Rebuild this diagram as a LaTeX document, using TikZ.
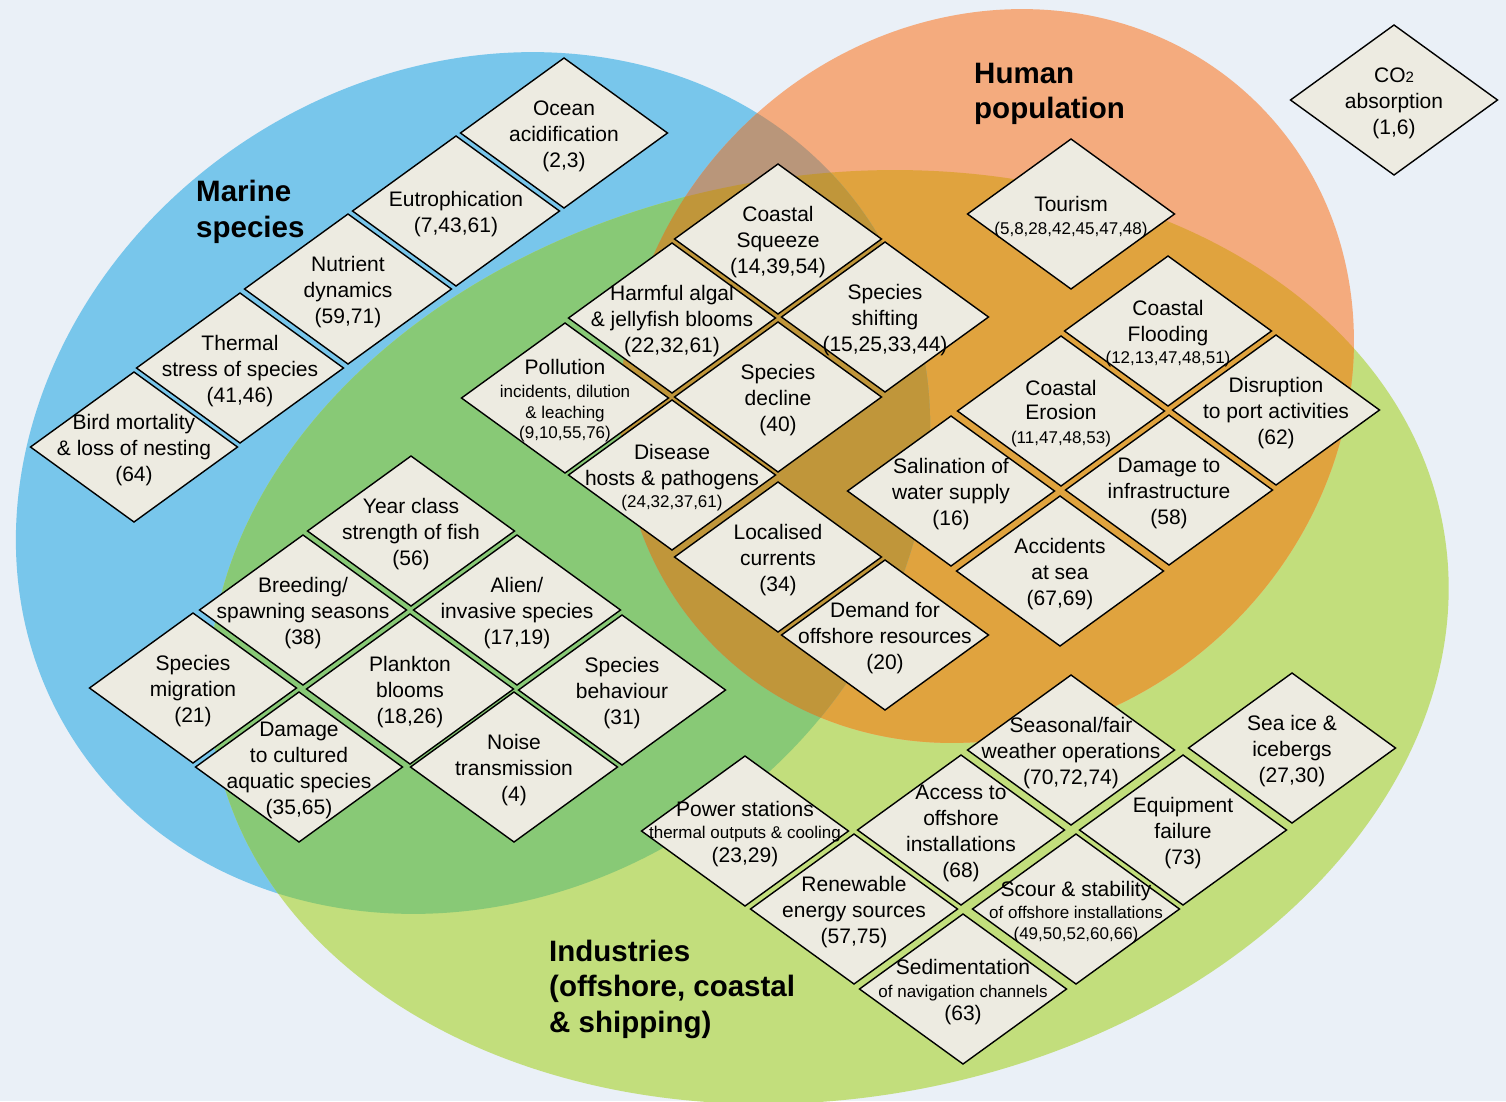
\documentclass[tikz,border=0pt]{standalone}
\usepackage{fontspec}
\setmainfont{Liberation Sans}
\usetikzlibrary{shapes.geometric}
\definecolor{cbg}{RGB}{234,240,247}
\definecolor{cblue}{RGB}{120,198,235}
\definecolor{corange}{RGB}{244,171,126}
\definecolor{cgreen}{RGB}{194,222,124}
\definecolor{cbluegreen}{RGB}{136,201,118}
\definecolor{corangegreen}{RGB}{224,163,62}
\definecolor{cblueorange}{RGB}{185,150,122}
\definecolor{call}{RGB}{192,150,58}
\definecolor{cfill}{RGB}{237,235,225}
\newcommand\sm{\fontsize{17}{20}\selectfont}
\newcommand\dmd[3]{\node[dia] (#1) at (#2) {}; \node[dtext] (#1-t) at (#1.center) {#3};}
\begin{document}
\begin{tikzpicture}[x=1pt,y=-1pt,
  dia/.style={diamond, draw=black, line width=1.4pt, fill=cfill, minimum width=207pt, minimum height=150pt, inner sep=0pt, outer sep=0pt},
  dtext/.style={align=center, inner sep=0pt, yshift=-3pt, font=\fontsize{21}{26}\selectfont, text=black},
  title/.style={align=left, anchor=west, inner sep=0pt, font=\bfseries\fontsize{29.5}{35.5}\selectfont, text=black}]
\fill[cbg] (0,0) rectangle (1506,1101);
\useasboundingbox (0,0) rectangle (1506,1101);
\clip (0,0) rectangle (1506,1101);
% base ellipses
\fill[cblue, rotate around={32.9:(473,483)}] (473,483) ellipse [x radius=475pt, y radius=411pt];
\fill[cgreen, rotate around={10.1:(829,637)}] (829,637) ellipse [x radius=624pt, y radius=461pt];
\fill[corange, rotate around={45:(987,376)}] (987,376) ellipse [x radius=384pt, y radius=349pt];
% orange and green
\begin{scope}
  \clip[rotate around={45:(987,376)}] (987,376) ellipse [x radius=384pt, y radius=349pt];
  \fill[corangegreen, rotate around={10.1:(829,637)}] (829,637) ellipse [x radius=624pt, y radius=461pt];
\end{scope}
% blue overlaps
\begin{scope}
  \clip[rotate around={32.9:(473,483)}] (473,483) ellipse [x radius=475pt, y radius=411pt];
  \fill[cbluegreen, rotate around={10.1:(829,637)}] (829,637) ellipse [x radius=624pt, y radius=461pt];
  \fill[cblueorange, rotate around={45:(987,376)}] (987,376) ellipse [x radius=384pt, y radius=349pt];
  \begin{scope}
    \clip[rotate around={45:(987,376)}] (987,376) ellipse [x radius=384pt, y radius=349pt];
    \fill[call, rotate around={10.1:(829,637)}] (829,637) ellipse [x radius=624pt, y radius=461pt];
  \end{scope}
\end{scope}
% titles
\node[title] (tmarine) at (196,212) {Marine\\species};
\node[title] (thuman) at (974,94) {Human\\population};
\node[title] (tind) at (549,989) {Industries\\(offshore, coastal\\\& shipping)};
% blue group
\dmd{ocean}{564,133}{Ocean\\acidification\\(2,3)}
\dmd{eutro}{456,211}{Eutrophication\\(7,43,61)}
\dmd{nutri}{348,289}{Nutrient\\dynamics\\(59,71)}
\dmd{thermal}{240,368}{Thermal\\stress of species\\(41,46)}
\dmd{bird}{134,447}{Bird mortality\\\& loss of nesting\\(64)}
% centre group
\dmd{squeeze}{778,239}{Coastal\\Squeeze\\(14,39,54)}
\dmd{shift}{885,317}{Species\\shifting\\(15,25,33,44)}
\dmd{harm}{672,318}{Harmful algal\\\& jellyfish blooms\\(22,32,61)}
\dmd{decline}{778,397}{Species\\decline\\(40)}
\dmd{pollu}{565,398}{Pollution\\[-3pt]{\sm incidents, dilution}\\[-5pt]{\sm \& leaching}\\[-6pt]{\sm (9,10,55,76)}}
\dmd{disease}{672,475}{Disease\\hosts \& pathogens\\[-4pt]{\sm (24,32,37,61)}}
\dmd{curr}{778,557}{Localised\\currents\\(34)}
\dmd{demand}{885,635}{Demand for\\offshore resources\\(20)}
% right group
\dmd{tour}{1071,214}{Tourism\\[-3pt]{\sm (5,8,28,42,45,47,48)}}
\dmd{flood}{1168,331}{Coastal\\Flooding\\[-4pt]{\sm (12,13,47,48,51)}}
\dmd{erosion}{1061,411}{Coastal\\[-2pt]Erosion\\[-2pt]{\sm (11,47,48,53)}}
\dmd{port}{1276,410}{Disruption\\to port activities\\(62)}
\dmd{salin}{951,491}{Salination of\\water supply\\(16)}
\dmd{infra}{1169,490}{Damage to\\infrastructure\\(58)}
\dmd{accid}{1060,571}{Accidents\\at sea\\(67,69)}
% left group
\dmd{year}{411,531}{Year class\\strength of fish\\(56)}
\dmd{breed}{303,610}{Breeding/\\spawning seasons\\(38)}
\dmd{alien}{517,610}{Alien/\\invasive species\\(17,19)}
\dmd{migr}{193,688}{Species\\migration\\(21)}
\dmd{plank}{410,689}{Plankton\\blooms\\(18,26)}
\dmd{behav}{622,690}{Species\\behaviour\\(31)}
\dmd{cult}{299,767}{Damage\\to cultured\\aquatic species\\(35,65)}
\dmd{noise}{514,767}{Noise\\transmission\\(4)}
% bottom right group
\dmd{season}{1071,750}{Seasonal/fair\\weather operations\\(70,72,74)}
\dmd{seaice}{1292,748}{Sea ice \&\\icebergs\\(27,30)}
\dmd{equip}{1183,830}{Equipment\\failure\\(73)}
\dmd{access}{961,830}{Access to\\offshore\\installations\\(68)}
\dmd{power}{745,831}{Power stations\\[-4pt]{\sm thermal outputs \& cooling}\\[-2pt](23,29)}
\dmd{renew}{854,909}{Renewable\\energy sources\\(57,75)}
\dmd{scour}{1076,909}{Scour \& stability\\[-4pt]{\sm of offshore installations}\\[-5pt]{\sm (49,50,52,60,66)}}
\dmd{sedim}{963,989}{Sedimentation\\[-3pt]{\sm of navigation channels}\\[-3pt](63)}
% outside
\dmd{co2}{1394,100}{CO{\fontsize{15}{15}\selectfont 2}\\absorption\\(1,6)}
\end{tikzpicture}
\end{document}
